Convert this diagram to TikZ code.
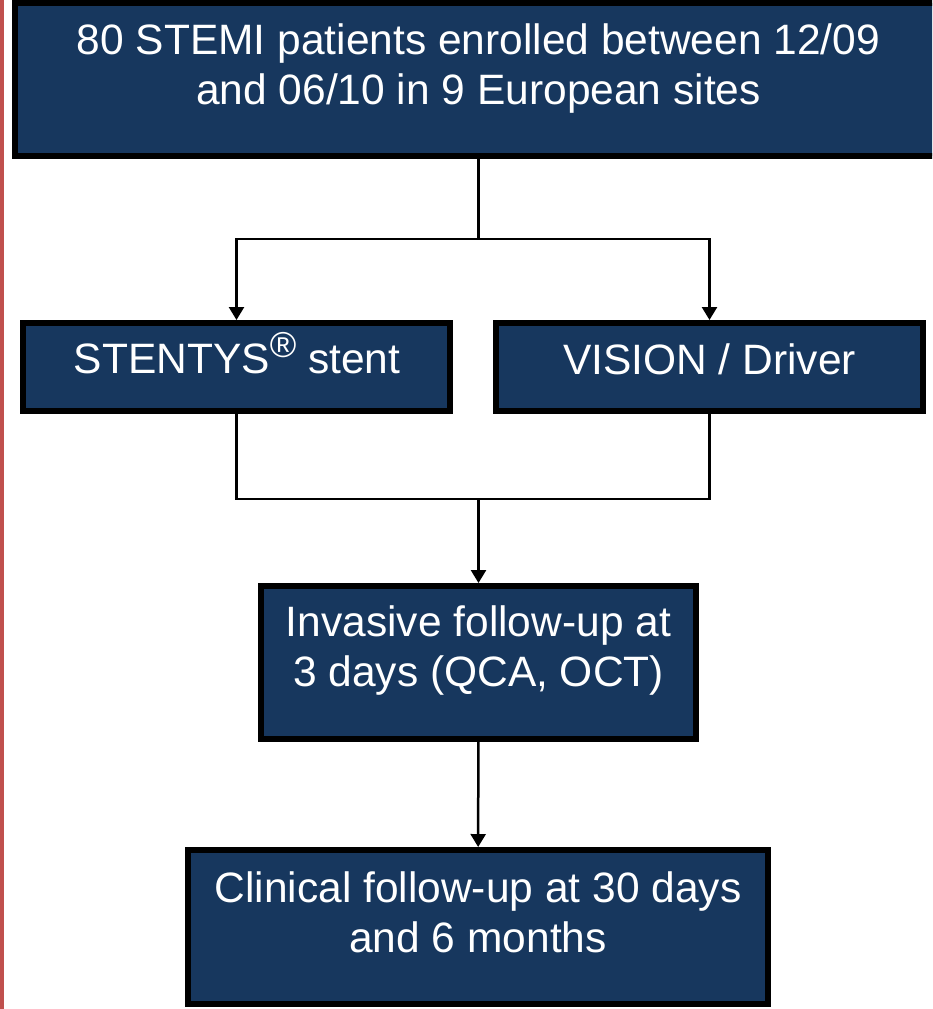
\documentclass[tikz,border=0pt]{standalone}
\usepackage{fontspec}
\setmainfont{Liberation Sans}
\usetikzlibrary{arrows.meta}
\definecolor{navy}{RGB}{23,55,94}
\definecolor{redline}{RGB}{192,80,77}
\begin{document}
\begin{tikzpicture}[x=1pt,y=-1pt,
 box/.style={draw=black, line width=6pt, fill=navy, inner sep=0pt},
 txt/.style={text=white, font=\fontsize{42.5}{50}\selectfont, align=center, inner sep=0pt},
 conn/.style={line width=2.5pt, draw=black},
 arr/.style={conn, -{Triangle[length=13pt,width=15pt]}}]
\clip (0,0) rectangle (932,1009);
\fill[redline] (0,0) rectangle (3.5,1009);
% boxes
\node[box, minimum width=927pt, minimum height=153pt] (top) at (478.5,79.5) {};
\node[box, minimum width=427pt, minimum height=88pt] (left) at (236.5,367) {};
\node[box, minimum width=427pt, minimum height=88pt] (right) at (709.5,367) {};
\node[box, minimum width=435pt, minimum height=153pt] (inv) at (478.5,662.5) {};
\node[box, minimum width=580pt, minimum height=154pt] (clin) at (478,927) {};
% texts
\node[txt] (t1) at (478.5,68.5) {80 STEMI patients enrolled between 12/09\\and 06/10 in 9 European sites};
\node[txt, anchor=base] (t2) at (237,373) {STENTYS\raisebox{16pt}{\fontsize{36}{36}\selectfont ®} stent};
\node[txt, anchor=base] (t3) at (709.5,374) {VISION / Driver};
\node[txt] (t4) at (478.5,651) {Invasive follow-up at\\3 days (QCA, OCT)};
\node[txt] (t5) at (478,912) {Clinical follow-up at 30 days\\and 6 months};
% connectors
\coordinate (j1) at (478.5,239);
\coordinate (j2) at (478.5,499);
\draw[conn] (top) -- (j1);
\draw[arr] (j1) -| (left);
\draw[arr] (j1) -| (right);
\draw[conn] (left) |- (j2) -| (right);
\draw[arr] (j2) -- (inv);
\draw[arr] (inv) -- (clin);
\end{tikzpicture}
\end{document}
